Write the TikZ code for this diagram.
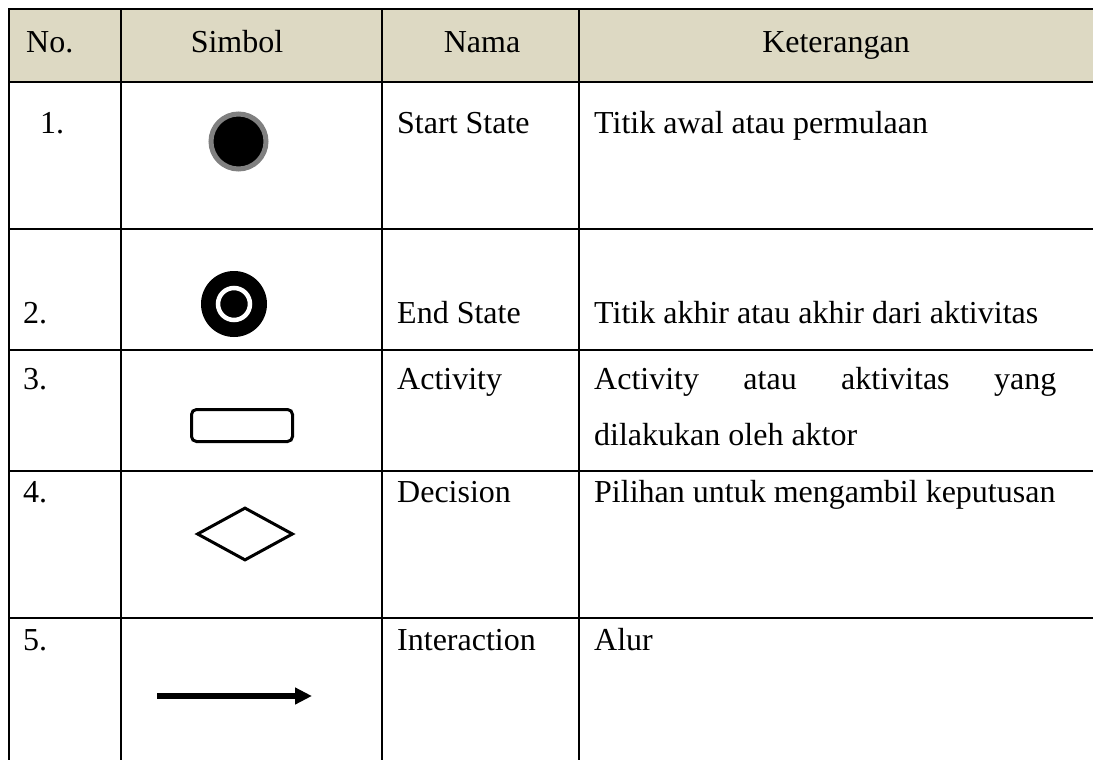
\documentclass[tikz,border=0pt]{standalone}
\usepackage{fontspec}
\setmainfont{Liberation Serif}
\usetikzlibrary{positioning,shapes.geometric,arrows.meta}
\definecolor{headtan}{HTML}{DDD9C3}

\begin{document}
\begin{tikzpicture}[x=1pt,y=-1pt,font=\fontsize{32}{56}\selectfont,
    rule/.style={line width=2.6pt},
    txt/.style={anchor=base west,inner sep=0pt},
    hdr/.style={anchor=base,inner sep=0pt}]
  \useasboundingbox (0,0) rectangle (1093,760);
  \fill[headtan] (9,9) rectangle (1094,82);
  % table rules
  \draw[rule] (9,762) -- (9,9) -- (1094,9) -- (1094,762);
  \draw[rule] (121,9) -- (121,762);
  \draw[rule] (382,9) -- (382,762);
  \draw[rule] (579,9) -- (579,762);
  \draw[rule] (9,82) -- (1094,82);
  \draw[rule] (9,229) -- (1094,229);
  \draw[rule] (9,350) -- (1094,350);
  \draw[rule] (9,471) -- (1094,471);
  \draw[rule] (9,618) -- (1094,618);
  % header
  \node[txt] (hno)   at (26,53)  {No.};
  \node[hdr] (hsim)  at (237,53) {Simbol};
  \node[hdr] (hnama) at (482,53) {Nama};
  \node[hdr] (hket)  at (836,53) {Keterangan};
  % symbols
  \node[circle,fill=black,draw=gray,line width=5pt,minimum size=55pt,inner sep=0pt] (start) at (238.5,141.5) {};
  \node[circle,fill=black,minimum size=66pt,inner sep=0pt] (endo) at (234,304) {};
  \node[circle,fill=black,draw=white,line width=4.5pt,minimum size=32pt,inner sep=0pt] (endi) at (endo) {};
  \node[draw,rounded corners=5pt,line width=3pt,minimum width=101pt,minimum height=32pt,inner sep=0pt] (act) at (242,425.5) {};
  \node[diamond,draw,line width=3pt,minimum width=96pt,minimum height=53pt,inner sep=0pt] (dec) at (245,534) {};
  \coordinate (flowa) at (157,696);
  \coordinate (flowb) at (312,696);
  \draw[line width=5.5pt,-{Triangle[length=17pt,width=16pt]}] (flowa) -- (flowb);
  % rows
  \node[txt] (n1) at (40,133)  {1.};
  \node[txt] (m1) at (397,133) {Start State};
  \node[txt] (k1) at (594,133) {Titik awal atau permulaan};
  \node[txt] (n2) at (23,323)  {2.};
  \node[txt] (m2) at (397,323) {End State};
  \node[txt] (k2) at (594,323) {Titik akhir atau akhir dari aktivitas};
  \node[txt] (n3) at (23,389)  {3.};
  \node[txt] (m3) at (397,389) {Activity};
  \node[txt] (k3a) at (594,389) {\makebox[462pt][s]{Activity atau aktivitas yang}};
  \node[txt] (k3b) at (594,445) {dilakukan oleh aktor};
  \node[txt] (n4) at (23,502)  {4.};
  \node[txt] (m4) at (397,502) {Decision};
  \node[txt] (k4) at (594,502) {Pilihan untuk mengambil keputusan};
  \node[txt] (n5) at (23,650)  {5.};
  \node[txt] (m5) at (397,650) {Interaction};
  \node[txt] (k5) at (594,650) {Alur};
\end{tikzpicture}
\end{document}
